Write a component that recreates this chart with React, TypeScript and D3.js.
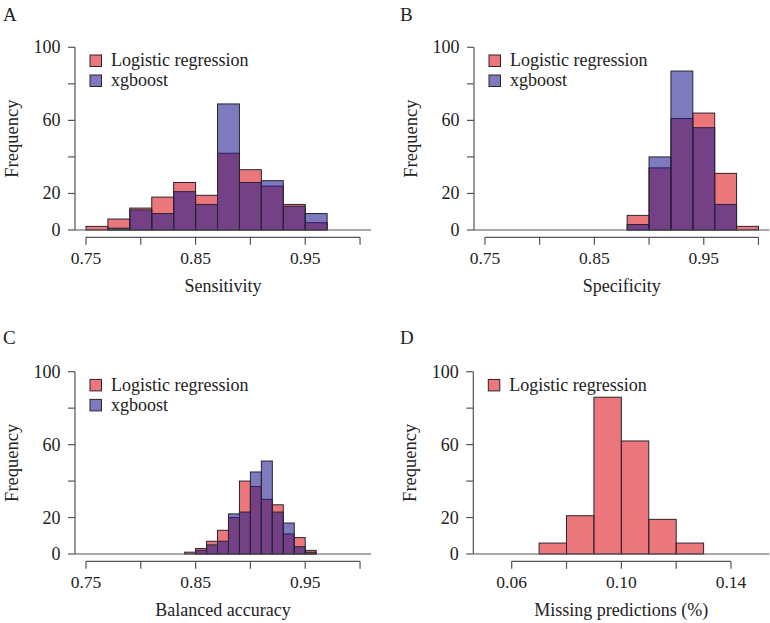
import React from "react";
import * as d3 from "d3";

// ---------- data ----------
const sensBinStarts = [0.75, 0.77, 0.79, 0.81, 0.83, 0.85, 0.87, 0.89, 0.91, 0.93, 0.95];
const sensLR = [2, 6, 12, 18, 26, 19, 42, 33, 24, 14, 4];
const sensXGB = [0, 1, 11, 9, 21, 14, 69, 26, 27, 13, 9];

const specBinStarts = [0.88, 0.9, 0.92, 0.94, 0.96, 0.98];
const specLR = [8, 34, 61, 64, 31, 2];
const specXGB = [3, 40, 87, 56, 14, 0];

const balBinStarts = [0.84, 0.85, 0.86, 0.87, 0.88, 0.89, 0.9, 0.91, 0.92, 0.93, 0.94, 0.95];
const balLR = [1, 3, 7, 13, 20, 40, 37, 30, 27, 11, 9, 2];
const balXGB = [0, 2, 5, 7, 22, 23, 45, 51, 23, 17, 4, 1];

const missBinStarts = [0.07, 0.08, 0.09, 0.1, 0.11, 0.12];
const missLR = [6, 21, 86, 62, 19, 6];

const metricTicks = [0.75, 0.8, 0.85, 0.9, 0.95, 1.0];
const metricTickLabels = ["0.75", "", "0.85", "", "0.95", ""];
const missTicks = [0.06, 0.08, 0.1, 0.12, 0.14];
const missTickLabels = ["0.06", "", "0.10", "", "0.14"];
const yTicks = [0, 20, 40, 60, 80, 100];
const yTickLabels = ["0", "20", "", "60", "", "100"];

const seriesNames = ["Logistic regression", "xgboost"];
const LR_COLOR = "rgb(220,20,30)";
const XGB_COLOR = "rgb(31,26,142)";
const FILL_OPACITY = 0.58;

// ---------- styling ----------
const FONT = '"Liberation Serif", "Times New Roman", serif';
const TEXT = "#222";
const AXIS = "#555";
const BAR_STROKE = "#2b2430";

type Series = { values: number[]; color: string; name: string };

type PanelProps = {
  letter: string;
  letterX: number;
  letterY: number;
  left: number;
  right: number;
  xDomain: [number, number];
  y0: number;
  y100: number;
  xTicks: number[];
  xTickLabels: string[];
  xTitle: string;
  binStarts: number[];
  binWidth: number;
  series: Series[];
};

function Panel(p: PanelProps) {
  const x = d3.scaleLinear().domain(p.xDomain).range([p.left, p.right]);
  const y = d3.scaleLinear().domain([0, 100]).range([p.y0, p.y100]);
  const axisY = y(-4);
  const axisX = p.left;
  const midX = (p.left + p.right) / 2;
  const midY = y(50);

  return (
    <g>
      <text x={p.letterX} y={p.letterY} fontSize={19} fill={TEXT} fontFamily={FONT}>
        {p.letter}
      </text>
      {/* bars */}
      {p.series.map((s, si) => (
        <g key={si}>
          {s.values.map((v, i) =>
            v > 0 ? (
              <rect
                key={i}
                x={x(p.binStarts[i])}
                y={y(v)}
                width={x(p.binStarts[i] + p.binWidth) - x(p.binStarts[i])}
                height={y(0) - y(v)}
                fill={s.color}
                fillOpacity={FILL_OPACITY}
                stroke={BAR_STROKE}
                strokeWidth={1}
              />
            ) : null
          )}
        </g>
      ))}
      {/* zero baseline */}
      <line x1={axisX} x2={p.right} y1={y(0)} y2={y(0)} stroke={AXIS} strokeWidth={1.2} />
      {/* y axis */}
      <line x1={axisX} x2={axisX} y1={y(0)} y2={y(100)} stroke={AXIS} strokeWidth={1.2} />
      {yTicks.map((t, i) => (
        <g key={i}>
          <line x1={axisX - 7} x2={axisX} y1={y(t)} y2={y(t)} stroke={AXIS} strokeWidth={1.2} />
          {yTickLabels[i] ? (
            <text
              x={axisX - 14.5}
              y={y(t) + 6}
              textAnchor="end"
              fontSize={18}
              fill={TEXT}
              fontFamily={FONT}
            >
              {yTickLabels[i]}
            </text>
          ) : null}
        </g>
      ))}
      {/* x axis */}
      <line
        x1={x(p.xTicks[0])}
        x2={x(p.xTicks[p.xTicks.length - 1])}
        y1={axisY}
        y2={axisY}
        stroke={AXIS}
        strokeWidth={1.2}
      />
      {p.xTicks.map((t, i) => (
        <g key={i}>
          <line x1={x(t)} x2={x(t)} y1={axisY} y2={axisY + 7.5} stroke={AXIS} strokeWidth={1.2} />
          {p.xTickLabels[i] ? (
            <text
              x={x(t)}
              y={axisY + 27}
              textAnchor="middle"
              fontSize={17.5}
              fill={TEXT}
              fontFamily={FONT}
            >
              {p.xTickLabels[i]}
            </text>
          ) : null}
        </g>
      ))}
      {/* titles */}
      <text x={midX} y={axisY + 55} textAnchor="middle" fontSize={18} fill={TEXT} fontFamily={FONT}>
        {p.xTitle}
      </text>
      <text
        transform={`translate(${axisX - 57},${midY}) rotate(-90)`}
        textAnchor="middle"
        fontSize={18.5}
        fill={TEXT}
        fontFamily={FONT}
      >
        Frequency
      </text>
      {/* legend */}
      {p.series.map((s, si) => (
        <g key={si}>
          <rect
            x={axisX + 15}
            y={y(100) + 7.7 + si * 20}
            width={11.5}
            height={11.5}
            fill={s.color}
            fillOpacity={FILL_OPACITY}
            stroke={BAR_STROKE}
            strokeWidth={1}
          />
          <text
            x={axisX + 36}
            y={y(100) + 18.8 + si * 20}
            fontSize={18}
            fill={TEXT}
            fontFamily={FONT}
          >
            {s.name}
          </text>
        </g>
      ))}
    </g>
  );
}

export default function App() {
  const metricDomain: [number, number] = [0.74, 1.01];
  const missDomain: [number, number] = [0.046, 0.154];
  const lr = (values: number[]): Series => ({ values, color: LR_COLOR, name: seriesNames[0] });
  const xg = (values: number[]): Series => ({ values, color: XGB_COLOR, name: seriesNames[1] });

  return (
    <svg
      width={770}
      height={623}
      style={{ position: "absolute", left: 0, top: 0, background: "#fff" }}
    >
      <rect x={0} y={0} width={770} height={623} fill="#fff" />
      <Panel
        letter="A"
        letterX={3}
        letterY={21}
        left={75}
        right={371}
        xDomain={metricDomain}
        y0={230}
        y100={47.3}
        xTicks={metricTicks}
        xTickLabels={metricTickLabels}
        xTitle="Sensitivity"
        binStarts={sensBinStarts}
        binWidth={0.02}
        series={[lr(sensLR), xg(sensXGB)]}
      />
      <Panel
        letter="B"
        letterX={400}
        letterY={21}
        left={474}
        right={769.4}
        xDomain={metricDomain}
        y0={230}
        y100={47.3}
        xTicks={metricTicks}
        xTickLabels={metricTickLabels}
        xTitle="Specificity"
        binStarts={specBinStarts}
        binWidth={0.02}
        series={[lr(specLR), xg(specXGB)]}
      />
      <Panel
        letter="C"
        letterX={3}
        letterY={344}
        left={75}
        right={371}
        xDomain={metricDomain}
        y0={554}
        y100={371.7}
        xTicks={metricTicks}
        xTickLabels={metricTickLabels}
        xTitle="Balanced accuracy"
        binStarts={balBinStarts}
        binWidth={0.01}
        series={[lr(balLR), xg(balXGB)]}
      />
      <Panel
        letter="D"
        letterX={400}
        letterY={344}
        left={473.3}
        right={769.4}
        xDomain={missDomain}
        y0={554}
        y100={371.7}
        xTicks={missTicks}
        xTickLabels={missTickLabels}
        xTitle="Missing predictions (%)"
        binStarts={missBinStarts}
        binWidth={0.01}
        series={[lr(missLR)]}
      />
    </svg>
  );
}
